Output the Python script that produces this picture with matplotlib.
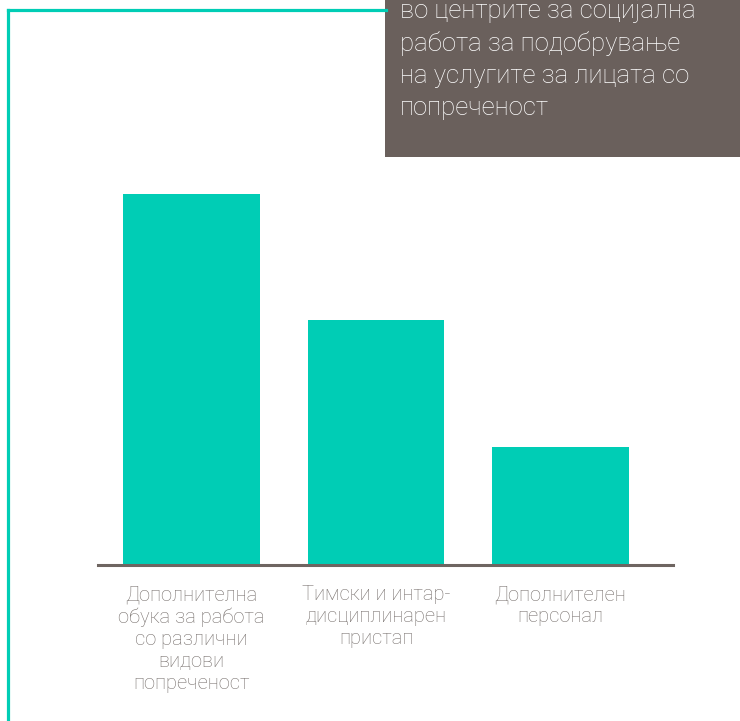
import matplotlib.pyplot as plt
from matplotlib.patches import Rectangle
from matplotlib.lines import Line2D
from matplotlib.transforms import blended_transform_factory

plt.rcParams['font.family'] = ['Roboto', 'DejaVu Sans']

categories = [
    "Дополнителна\nобука за работа\nсо различни\nвидови\nпопреченост",
    "Тимски и интар-\nдисциплинарен\nпристап",
    "Дополнителен\nперсонал",
]
values = [47, 31, 15]
box_lines = [
    "во центрите за социјална",
    "работа за подобрување",
    "на услугите за лицата со",
    "попреченост",
]

TEAL = "#00cdb5"
BOX = "#6a605c"
TEXT = "#77706d"

W, H = 740, 721
fig = plt.figure(figsize=(W / 100, H / 100), dpi=100)

def fx(px):
    return px / W

def fy(py):
    return 1 - py / H

# plot area: baseline at y=565, 7.9 px per unit
base_px = 565
top_px = base_px - 50 * 7.9
ax = fig.add_axes([fx(98), fy(base_px), fx(673) - fx(98), fy(top_px) - fy(base_px)])
x = range(len(values))
ax.bar(x, values, width=0.742, color=TEAL, zorder=2)
ax.set_xlim(-0.507, 2.61)
ax.set_ylim(0, 50)
for s in ["top", "right", "left"]:
    ax.spines[s].set_visible(False)
ax.spines["bottom"].set_color("#6e6561")
ax.spines["bottom"].set_linewidth(2.2)
ax.set_yticks([])
ax.set_xticks([])

trans = blended_transform_factory(ax.transData, fig.transFigure)
for i, lab in enumerate(categories):
    ax.text(i, fy(585), lab, transform=trans, ha="center", va="top",
            fontsize=14.5, fontweight="light", color=TEXT, linespacing=1.2,
            multialignment="center")

# teal frame on the left and top
fig.add_artist(Line2D([fx(8), fx(8)], [fy(9.5), fy(H + 5)], color=TEAL, lw=2.3,
                      transform=fig.transFigure))
fig.add_artist(Line2D([fx(8), fx(386)], [fy(9.5), fy(9.5)], color=TEAL, lw=2.3,
                      transform=fig.transFigure))

# dark caption box in the top right corner
fig.add_artist(Rectangle((fx(385), fy(157)), 1 - fx(385), fy(0) - fy(157) + 0.01,
                         transform=fig.transFigure, facecolor=BOX, edgecolor="none"))
for k, line in enumerate(box_lines):
    fig.text(fx(400), fy(18 + 32.5 * k), line, ha="left", va="baseline",
             fontsize=18.5, fontweight="light", color="white")

fig.savefig("out.png", dpi=100)
